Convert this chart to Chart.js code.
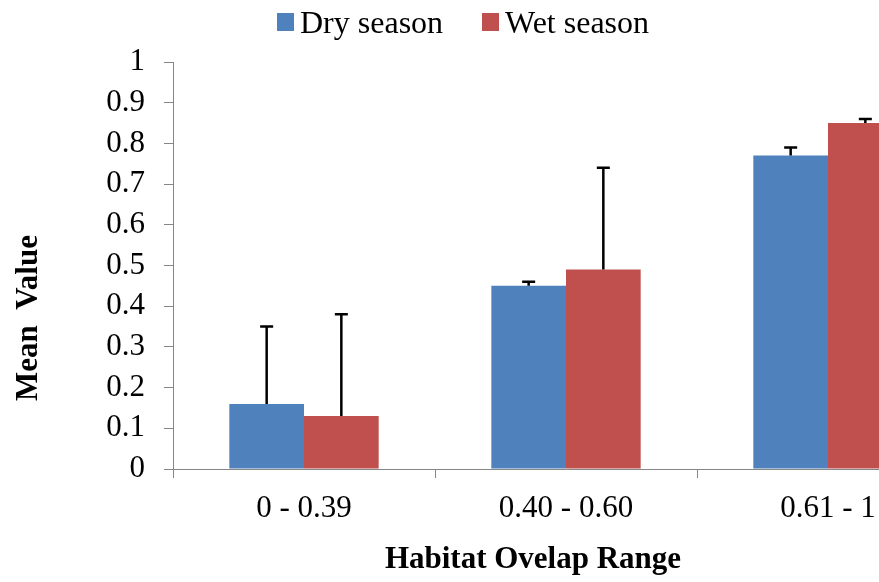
<!DOCTYPE html>
<html>
<head>
<meta charset="utf-8">
<script src="https://cdn.jsdelivr.net/npm/chart.js@4"></script>
<style>
  html, body { margin: 0; padding: 0; background: #fff; overflow: hidden; }
  #wrap { width: 962px; height: 582px; }
</style>
</head>
<body>
<div id="wrap"><canvas id="c" width="962" height="582"></canvas></div>
<script>
const categories = ['0 - 0.39', '0.40 - 0.60', '0.61 - 1'];
const seriesLabels = ['Dry season', 'Wet season'];
const dryValues = [0.16, 0.45, 0.77];
const wetValues = [0.13, 0.49, 0.85];
const dryErrors = [0.19, 0.01, 0.02];
const wetErrors = [0.25, 0.25, 0.01];
const yMin = 0, yMax = 1, yStep = 0.1;
const yTitle = 'Mean  Value';
const xTitle = 'Habitat Ovelap Range';

const SERIF = '"Liberation Serif", "Times New Roman", serif';
const colors = ['#4F81BD', '#C0504D'];

const errorBars = {
  id: 'errorBars',
  afterDatasetsDraw(chart) {
    const ctx = chart.ctx;
    const ys = chart.scales.y;
    chart.data.datasets.forEach((ds, i) => {
      const meta = chart.getDatasetMeta(i);
      meta.data.forEach((bar, j) => {
        const v = ds.data[j], e = ds.errors[j];
        const yTop = ys.getPixelForValue(v + e);
        ctx.save();
        ctx.strokeStyle = '#000';
        ctx.lineWidth = 2.5;
        ctx.beginPath();
        ctx.moveTo(bar.x, bar.y);
        ctx.lineTo(bar.x, yTop);
        ctx.moveTo(bar.x - 6.5, yTop);
        ctx.lineTo(bar.x + 6.5, yTop);
        ctx.stroke();
        ctx.restore();
      });
    });
  }
};

const customText = {
  id: 'customText',
  afterDraw(chart) {
    const ctx = chart.ctx;
    ctx.save();
    // legend
    ctx.font = '32px ' + SERIF;
    ctx.textBaseline = 'alphabetic';
    ctx.textAlign = 'left';
    const boxX = [277, 482];
    chart.data.datasets.forEach((ds, i) => {
      ctx.fillStyle = ds.backgroundColor;
      ctx.fillRect(boxX[i], 13, 17, 18);
      ctx.fillStyle = '#000';
      ctx.fillText(ds.label, boxX[i] + 23, 33);
    });
    // axis titles
    ctx.font = 'bold 31px ' + SERIF;
    ctx.fillStyle = '#000';
    ctx.textAlign = 'center';
    ctx.fillText(xTitle, 533, 568);
    ctx.translate(37, 318);
    ctx.rotate(-Math.PI / 2);
    ctx.textBaseline = 'alphabetic';
    ctx.fillText(yTitle, 0, 0);
    ctx.restore();
  }
};

new Chart(document.getElementById('c'), {
  type: 'bar',
  data: {
    labels: categories,
    datasets: [
      { label: seriesLabels[0], data: dryValues, errors: dryErrors, backgroundColor: colors[0], borderWidth: 0 },
      { label: seriesLabels[1], data: wetValues, errors: wetErrors, backgroundColor: colors[1], borderWidth: 0 }
    ]
  },
  options: {
    responsive: false,
    animation: false,
    devicePixelRatio: 1,
    layout: { padding: { top: 62, right: 3, left: 0, bottom: 0 } },
    datasets: { bar: { categoryPercentage: 0.57, barPercentage: 1 } },
    plugins: { legend: { display: false }, tooltip: { enabled: false } },
    scales: {
      x: {
        afterFit(s) { s.height = 113; },
        grid: { display: true, drawOnChartArea: false, offset: true, tickLength: 9, color: '#868686', lineWidth: 1 },
        border: { display: true, color: '#868686', width: 1 },
        ticks: { color: '#000', font: { family: SERIF, size: 31 }, padding: 12 }
      },
      y: {
        min: yMin, max: yMax,
        afterFit(s) { s.width = 173; },
        grid: { display: true, drawOnChartArea: false, tickLength: 9, color: '#868686', lineWidth: 1 },
        border: { display: true, color: '#868686', width: 1 },
        ticks: {
          stepSize: yStep, color: '#000', font: { family: SERIF, size: 31 }, padding: 19,
          callback: (v) => String(Number(v.toFixed(1)))
        }
      }
    }
  },
  plugins: [errorBars, customText]
});
</script>
</body>
</html>
